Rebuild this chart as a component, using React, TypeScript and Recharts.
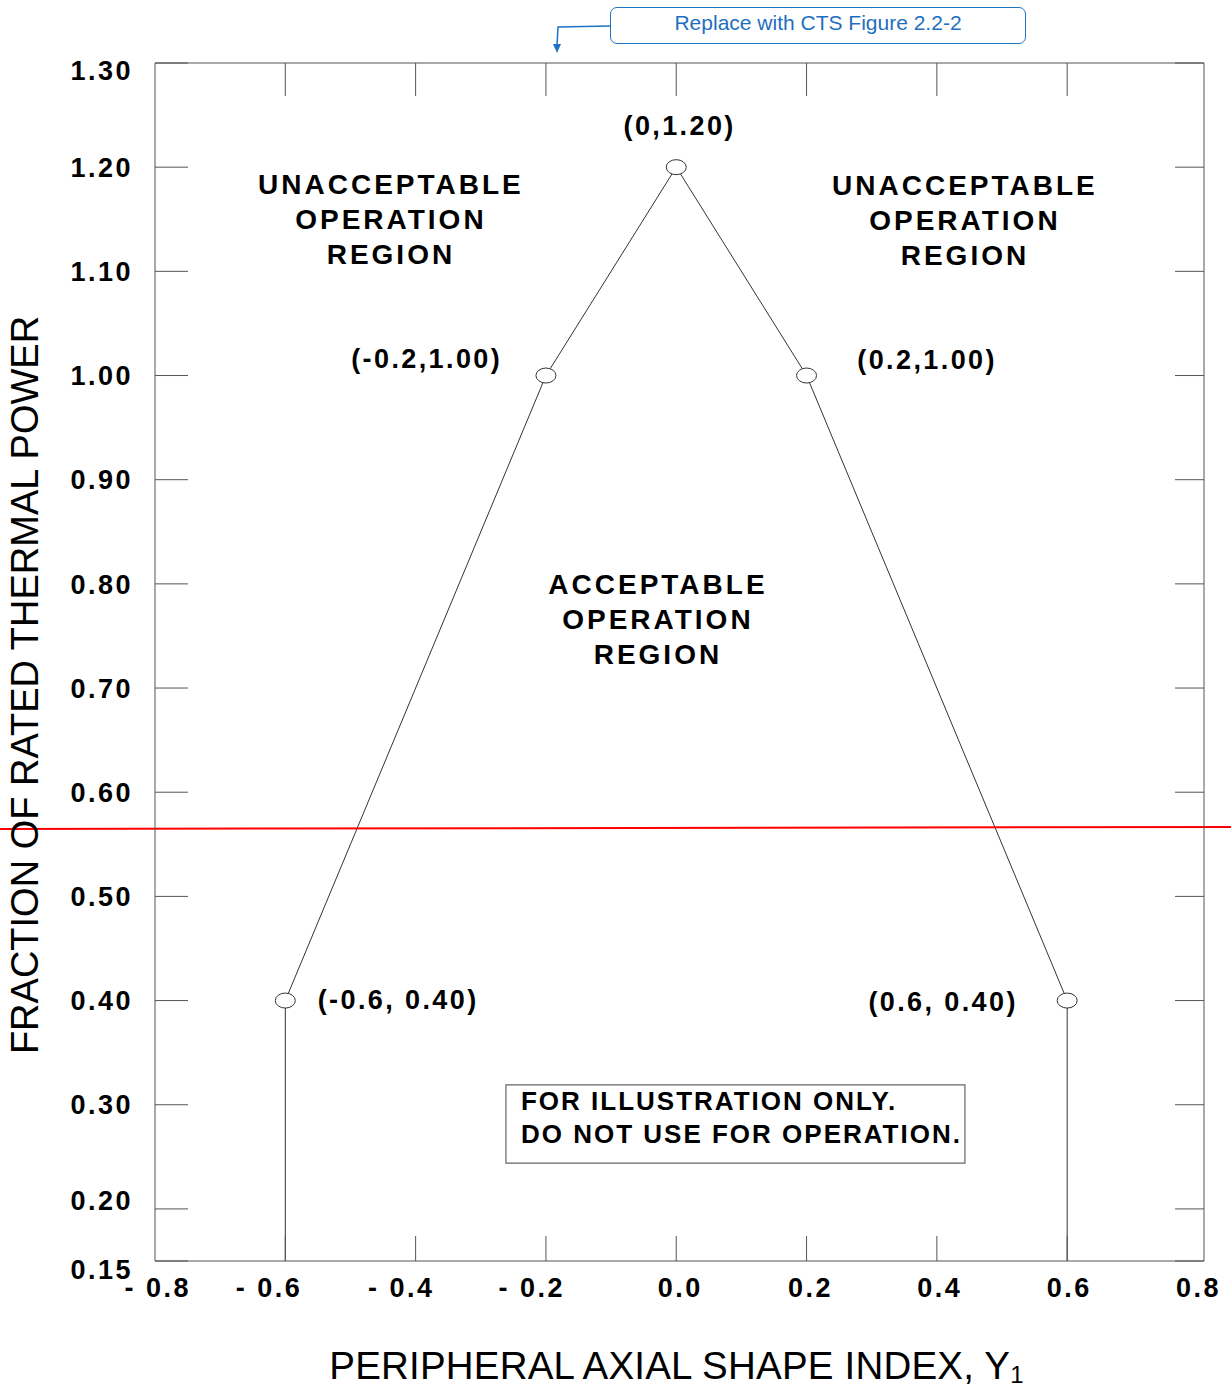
import React from 'react';
import { ComposedChart, Line, Scatter, XAxis, YAxis, ReferenceLine, ReferenceDot, ReferenceArea } from 'recharts';

const xTicks = [-0.8, -0.6, -0.4, -0.2, 0, 0.2, 0.4, 0.6, 0.8];
const xTickLabels = ['- 0.8', '- 0.6', '- 0.4', '- 0.2', '0.0', '0.2', '0.4', '0.6', '0.8'];
const yTicks = [0.15, 0.2, 0.3, 0.4, 0.5, 0.6, 0.7, 0.8, 0.9, 1.0, 1.1, 1.2, 1.3];
const yTickLabels = ['0.15', '0.20', '0.30', '0.40', '0.50', '0.60', '0.70', '0.80', '0.90', '1.00', '1.10', '1.20', '1.30'];

// limit curve: up the left leg, over the peak, down the right leg
const limitShapeIndex = [-0.6, -0.6, -0.2, 0, 0.2, 0.6, 0.6];
const limitPower = [0.15, 0.4, 1.0, 1.2, 1.0, 0.4, 0.15];

const cornerShapeIndex = [-0.6, -0.2, 0, 0.2, 0.6];
const cornerPower = [0.4, 1.0, 1.2, 1.0, 0.4];
const cornerLabels = ['(-0.6, 0.40)', '(-0.2,1.00)', '(0,1.20)', '(0.2,1.00)', '(0.6, 0.40)'];

const regionLabels = [
  ['UNACCEPTABLE', 'OPERATION', 'REGION'],
  ['UNACCEPTABLE', 'OPERATION', 'REGION'],
  ['ACCEPTABLE', 'OPERATION', 'REGION'],
];
const noteLines = ['FOR ILLUSTRATION ONLY.', 'DO NOT USE FOR OPERATION.'];

// red marker line, runs edge to edge of the page
const redLineShapeIndex = [-1.04, 0.855];
const redLinePower = [0.5647, 0.5666];

// where the text annotations sit, in data units
const cornerLabelAt = [[-0.4268, 0.401], [-0.383, 1.017], [0.0052, 1.2405], [0.385, 1.016], [0.4096, 0.399]];
const regionLabelAt = [[-0.4379, 1.184], [0.4431, 1.183], [-0.0281, 0.8]];
const noteBox = { x1: -0.2614, x2: 0.4431, y1: 0.244, y2: 0.319 };
const noteTextAt = [-0.2383, 0.3035];
const topTickLength = 0.0317; // in power units, ~33px

const limitData = limitShapeIndex.map((x, i) => ({ x, y: limitPower[i] }));
const cornerData = cornerShapeIndex.map((x, i) => ({ x, y: cornerPower[i] }));

const FONT = "'Liberation Sans', Arial, sans-serif";
const FRAME = '#555';
const bold = { fontFamily: FONT, fontWeight: 700, fill: '#000' } as const;

const BottomTick = ({ x, y, payload }: any) => {
  const i = xTicks.indexOf(payload.value);
  const nudge = [36, 17, 19, 19, 4, 4, 3, 2, 1][i];
  return (
    <g>
      {i > 0 && i < xTicks.length - 1 && <line x1={x} x2={x} y1={y - 25} y2={y} stroke={FRAME} />}
      <text x={x + nudge} y={y + 36} textAnchor={i < 4 ? 'end' : 'middle'} fontSize={27} letterSpacing={2.5} {...bold}>
        {xTickLabels[i]}
      </text>
    </g>
  );
};

const LeftTick = ({ x, y, payload }: any) => {
  const i = yTicks.indexOf(payload.value);
  const dy = i === 0 ? 8 : i === 1 ? -9 : i === yTicks.length - 1 ? 7 : 0;
  return (
    <g>
      <line x1={x} x2={x + 33} y1={y} y2={y} stroke={FRAME} />
      <text x={x - 22} y={y + dy} dy="0.36em" textAnchor="end" fontSize={27} letterSpacing={2.5} {...bold}>
        {yTickLabels[i]}
      </text>
    </g>
  );
};

const RightTick = ({ x, y }: any) => <line x1={x - 29} x2={x} y1={y} y2={y} stroke={FRAME} />;

const XTitle = ({ viewBox }: any) => (
  <text x={viewBox.x + viewBox.width / 2 - 3} y={viewBox.y + 118} textAnchor="middle" fontFamily={FONT} fontSize={38.5} letterSpacing={0.2} fill="#000">
    PERIPHERAL AXIAL SHAPE INDEX, Y<tspan fontSize={24} dy={4}>1</tspan>
  </text>
);

const YTitle = ({ viewBox }: any) => {
  const cx = viewBox.x + viewBox.width - 130;
  const cy = viewBox.y + viewBox.height / 2 + 23;
  return (
    <text x={cx} y={cy} transform={`rotate(-90, ${cx}, ${cy})`} textAnchor="middle" dominantBaseline="central" fontFamily={FONT} fontSize={38} fill="#000">
      FRACTION OF RATED THERMAL POWER
    </text>
  );
};

const Oval = ({ cx, cy }: any) => <ellipse cx={cx} cy={cy} rx={10} ry={7.5} fill="#fff" stroke="#333" strokeWidth={1} />;

const multiLine = (lines: string[], size: number, spacing: number, gap: number, anchor: 'middle' | 'start') =>
  ({ cx, cy }: any) => (
    <text x={cx} textAnchor={anchor} fontSize={size} letterSpacing={spacing} {...bold}>
      {lines.map((l, k) => (
        <tspan key={k} x={cx} y={cy + k * gap} dy="0.36em">{l}</tspan>
      ))}
    </text>
  );

export default function App() {
  return (
    <div style={{ position: 'absolute', left: 0, top: 0, width: 1231, height: 1387, background: '#fff', fontFamily: FONT }}>
      <ComposedChart width={1231} height={1387} margin={{ top: 62, right: 26, bottom: 125, left: 154 }}>
        <XAxis
          dataKey="x" type="number" domain={[-0.8, 0.81]} ticks={xTicks} interval={0} allowDataOverflow
          height={1} tickSize={0} tickMargin={0} tickLine={false} axisLine={{ stroke: FRAME }}
          tick={<BottomTick />} label={XTitle}
        />
        <XAxis
          xAxisId="top" orientation="top" type="number" domain={[-0.8, 0.81]} ticks={xTicks} interval={0} allowDataOverflow
          height={1} tickSize={0} tickMargin={0} tickLine={false} axisLine={{ stroke: FRAME }} tick={false}
        />
        <YAxis
          dataKey="y" type="number" domain={[0.15, 1.3]} ticks={yTicks} interval={0} allowDataOverflow
          width={1} tickSize={0} tickMargin={0} tickLine={false} axisLine={{ stroke: FRAME }}
          tick={<LeftTick />} label={YTitle}
        />
        <YAxis
          yAxisId="right" orientation="right" type="number" domain={[0.15, 1.3]} ticks={yTicks} interval={0} allowDataOverflow
          width={1} tickSize={0} tickMargin={0} tickLine={false} axisLine={{ stroke: FRAME }} tick={<RightTick />}
        />

        {xTicks.slice(1, -1).map((t) => (
          <ReferenceLine key={`top${t}`} segment={[{ x: t, y: 1.3 }, { x: t, y: 1.3 - topTickLength }]} stroke={FRAME} strokeWidth={1} />
        ))}

        <ReferenceArea {...noteBox} fill="#fff" fillOpacity={1} stroke="#666" strokeWidth={1.2} />
        <ReferenceDot x={noteTextAt[0]} y={noteTextAt[1]} r={0} shape={multiLine(noteLines, 26, 2.0, 33, 'start')} />

        <Line data={limitData} dataKey="y" type="linear" stroke="#333" strokeWidth={1} dot={false} isAnimationActive={false} />
        <Scatter data={cornerData} shape={<Oval />} isAnimationActive={false} />

        {cornerLabels.map((t, i) => (
          <ReferenceDot key={t} x={cornerLabelAt[i][0]} y={cornerLabelAt[i][1]} r={0} shape={multiLine([t], 27, 2.4, 0, 'middle')} />
        ))}
        {regionLabels.map((lines, i) => (
          <ReferenceDot key={i} x={regionLabelAt[i][0]} y={regionLabelAt[i][1]} r={0} shape={multiLine(lines, 28, 3, 35, 'middle')} />
        ))}

        <ReferenceLine
          segment={[{ x: redLineShapeIndex[0], y: redLinePower[0] }, { x: redLineShapeIndex[1], y: redLinePower[1] }]}
          stroke="#ff0000" strokeWidth={2} ifOverflow="visible"
        />
      </ComposedChart>

      <div
        style={{
          position: 'absolute', left: 610, top: 7, width: 416, height: 37, boxSizing: 'border-box',
          border: '1.5px solid #1f73c4', borderRadius: 7, color: '#1f6fc0', fontSize: 21,
          textAlign: 'center', lineHeight: '29px',
        }}
      >
        Replace with CTS Figure 2.2-2
      </div>
      <svg style={{ position: 'absolute', left: 0, top: 0 }} width={620} height={60}>
        <polyline points="610,26 558,27 557,45" fill="none" stroke="#1f73c4" strokeWidth={1.5} />
        <polygon points="553,44 561,44 557,53" fill="#1f73c4" />
      </svg>
    </div>
  );
}
